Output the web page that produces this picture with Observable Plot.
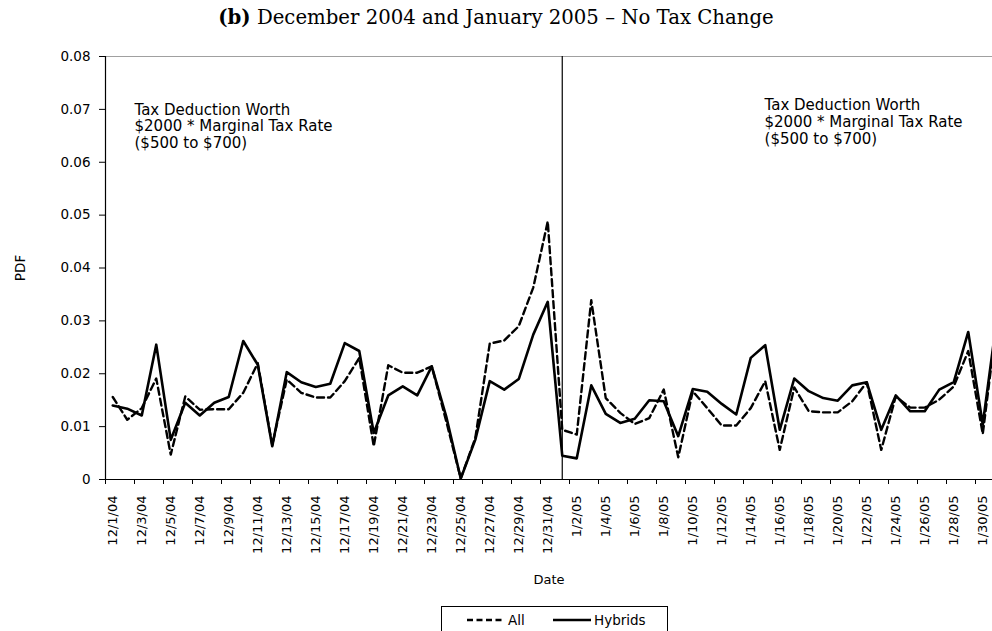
<!DOCTYPE html>
<html>
<head>
<meta charset="utf-8">
<script src="https://cdn.jsdelivr.net/npm/d3@7"></script>
<script src="https://cdn.jsdelivr.net/npm/@observablehq/plot@0.6"></script>
<style>
  html, body { margin: 0; padding: 0; background: white; width: 992px; height: 631px; overflow: hidden; position: relative; }
  #title { position: absolute; left: 0; top: 0; width: 992px; height: 36px; text-align: center;
           font-family: "DejaVu Serif", "Liberation Serif", serif; font-size: 19.7px; line-height: 36px; color: #000; }
  #title b { font-weight: bold; }
  #chart { position: absolute; left: 0; top: 36px; }
  #legend { position: absolute; left: 441px; top: 606px; width: 227px; height: 30px; border: 1px solid #000; box-sizing: border-box; background: white; }
</style>
</head>
<body>
<div id="title"><b>(b)</b> December 2004 and January 2005 – No Tax Change</div>
<div id="chart"></div>
<div id="legend"></div>
<script>
const dates = [
  "12/1/04","12/2/04","12/3/04","12/4/04","12/5/04","12/6/04","12/7/04","12/8/04","12/9/04","12/10/04",
  "12/11/04","12/12/04","12/13/04","12/14/04","12/15/04","12/16/04","12/17/04","12/18/04","12/19/04","12/20/04",
  "12/21/04","12/22/04","12/23/04","12/24/04","12/25/04","12/26/04","12/27/04","12/28/04","12/29/04","12/30/04",
  "12/31/04","1/1/05","1/2/05","1/3/05","1/4/05","1/5/05","1/6/05","1/7/05","1/8/05","1/9/05",
  "1/10/05","1/11/05","1/12/05","1/13/05","1/14/05","1/15/05","1/16/05","1/17/05","1/18/05","1/19/05",
  "1/20/05","1/21/05","1/22/05","1/23/05","1/24/05","1/25/05","1/26/05","1/27/05","1/28/05","1/29/05",
  "1/30/05","1/31/05"
];
const allValues = [
  0.0156,0.0113,0.0135,0.0191,0.0047,0.0157,0.0132,0.0133,0.0133,0.0164,
  0.0220,0.0065,0.0189,0.0164,0.0155,0.0155,0.0186,0.0230,0.0063,0.0216,
  0.0202,0.0202,0.0214,0.0110,0.0002,0.0078,0.0257,0.0263,0.0290,0.0363,
  0.0488,0.0094,0.0085,0.0339,0.0154,0.0126,0.0105,0.0116,0.0170,0.0042,
  0.0167,0.0135,0.0102,0.0102,0.0135,0.0186,0.0056,0.0174,0.0129,0.0127,
  0.0127,0.0148,0.0184,0.0056,0.0157,0.0136,0.0136,0.0151,0.0176,0.0243,
  0.0086,0.0305
];
const hybridValues = [
  0.0140,0.0134,0.0121,0.0255,0.0075,0.0145,0.0121,0.0145,0.0156,0.0262,
  0.0217,0.0063,0.0203,0.0184,0.0175,0.0181,0.0258,0.0243,0.0088,0.0159,
  0.0176,0.0159,0.0214,0.0119,0.0002,0.0075,0.0186,0.0170,0.0190,0.0274,
  0.0336,0.0045,0.0040,0.0178,0.0124,0.0107,0.0115,0.0150,0.0148,0.0082,
  0.0171,0.0166,0.0143,0.0123,0.0230,0.0254,0.0094,0.0191,0.0167,0.0154,
  0.0149,0.0178,0.0184,0.0094,0.0159,0.0129,0.0129,0.0170,0.0184,0.0279,
  0.0104,0.0310
];
const yTicks = [0, 0.01, 0.02, 0.03, 0.04, 0.05, 0.06, 0.07, 0.08];
const breakDate = "1/1/05";
const annotationText = "Tax Deduction Worth\n$2000 * Marginal Tax Rate\n($500 to $700)";
const annotations = [
  {date: "12/3/04", offset: -0.5, value: 0.0713, text: annotationText},
  {date: "1/15/05", offset: -0.05, value: 0.0722, text: annotationText}
];

const idx = d => dates.indexOf(d);
const labelIdx = d3.range(0, dates.length, 2);
const edgeTicks = d3.range(-0.5, dates.length, 2);

const chart = Plot.plot({
  width: 992,
  height: 570,
  marginLeft: 105,
  marginRight: 0,
  marginTop: 20,
  marginBottom: 127,
  style: {fontFamily: "DejaVu Sans", fontSize: "14.5px", color: "#000", background: "white", overflow: "hidden"},
  x: {type: "linear", domain: [-0.5, dates.length - 0.5], range: [105, 105 + 14.5 * dates.length]},
  y: {domain: [0, 0.08]},
  marks: [
    Plot.ruleY([yTicks[yTicks.length - 1]], {stroke: "#a0a0a0", strokeWidth: 1}),
    Plot.ruleX([idx(breakDate)], {stroke: "#000", strokeWidth: 1.2}),
    Plot.lineY(allValues, {x: (d, i) => i, y: d => d, stroke: "#000", strokeWidth: 2.4, strokeDasharray: "7,4"}),
    Plot.lineY(hybridValues, {x: (d, i) => i, y: d => d, stroke: "#000", strokeWidth: 2.6}),
    Plot.ruleY([0], {stroke: "#000", strokeWidth: 1.2}),
    Plot.ruleX([-0.5], {stroke: "#000", strokeWidth: 1.2}),
    Plot.axisY({ticks: yTicks, tickSize: 6, tickPadding: 9, tickFormat: d => d === 0 ? "0" : d.toFixed(2),
                label: "PDF", labelArrow: "none", labelAnchor: "center", labelOffset: 90, fontSize: 13.5, fill: "#000"}),
    Plot.axisX({ticks: edgeTicks, tickSize: 5, tickFormat: () => "", label: null}),
    Plot.axisX({ticks: labelIdx, tickSize: 0, tickPadding: 16, tickRotate: -90, tickFormat: i => dates[i],
                label: "Date", labelArrow: "none", labelAnchor: "center", labelOffset: 104, fontSize: 13, fill: "#000"}),
    Plot.text(annotations, {x: d => idx(d.date) + d.offset, y: "value", text: "text", textAnchor: "start",
                lineAnchor: "top", lineHeight: 1.13, fontSize: 15, fill: "#000"})
  ]
});
document.getElementById("chart").appendChild(chart);

// legend
const series = [
  {name: "All", dash: "6,3.5"},
  {name: "Hybrids", dash: null}
];
const lg = d3.select("#legend").append("svg").attr("width", 225).attr("height", 28)
  .style("font-family", "DejaVu Sans").style("font-size", "13.5px");
const legendX = [25, 111];
series.forEach((s, k) => {
  const g = lg.append("g").attr("transform", `translate(${legendX[k]},0)`);
  g.append("line").attr("x1", 0).attr("x2", 38).attr("y1", 13).attr("y2", 13)
    .attr("stroke", "#000").attr("stroke-width", 2.5).attr("stroke-dasharray", s.dash);
  g.append("text").attr("x", 41).attr("y", 13).attr("dy", "0.35em").text(s.name);
});
</script>
</body>
</html>
